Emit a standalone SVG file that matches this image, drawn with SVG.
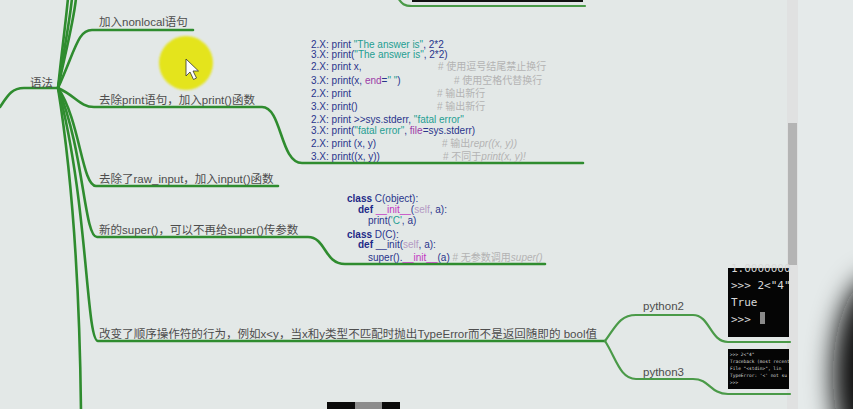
<svg xmlns="http://www.w3.org/2000/svg" width="853" height="409" viewBox="0 0 853 409">
<defs>
<style>
.lbl{font-family:"Liberation Sans","Noto Sans CJK SC",sans-serif;font-size:11.5px;fill:#4d4d4d}
.code{font-family:"Liberation Sans","Noto Sans CJK SC",sans-serif;font-size:10px;fill:#2a358c}
.s{fill:#1f9e92}
.k{fill:#9c3aa8}
.m{fill:#c236c2}
.sf{fill:#b49ac4}
.b{font-weight:bold;fill:#1e2a88}
.c{fill:#b3b3b3}
.i{font-style:italic}
.term{font-family:"DejaVu Sans Mono","Liberation Mono",monospace;fill:#d8d8d8}
.ln{fill:none;stroke:#2f8c2f;stroke-width:2.6;stroke-linecap:round}
.lt{fill:none;stroke:#4a9a48;stroke-width:2.2;stroke-linecap:round}
</style>
<filter id="blur" x="-50%" y="-50%" width="200%" height="200%"><feGaussianBlur stdDeviation="13"/></filter>
<filter id="soft" x="-20%" y="-20%" width="140%" height="140%"><feGaussianBlur stdDeviation="1"/></filter>
</defs>
<rect width="853" height="409" fill="#e3e8e7"/>
<rect x="798" y="0" width="55" height="409" fill="#e5eaea"/>
<ellipse cx="878" cy="375" rx="45" ry="100" fill="#0e0e0e" filter="url(#blur)"/>
<rect x="787" y="0" width="11" height="409" fill="#e0e1e1"/>
<rect x="788" y="123" width="9" height="142" fill="#b4b4b4"/>

<circle cx="186" cy="63" r="27" fill="#e4e41c" filter="url(#soft)"/>

<g id="connectors">
<path class="ln" d="M0,107 C8,95 12,88 24,88 L58,88"/>
<path class="ln" d="M58,88 C62,50 66,20 68,-2"/>
<path class="ln" d="M58,88 C64,50 70,20 72,-2"/>
<path class="ln" d="M58,88 C66,50 74,20 76,-2"/>
<path class="ln" d="M58,88 C76,48 78,30 92,30 L193,30"/>
<path class="ln" d="M58,88 C76,96 80,107 94,107 L262,107 C282,107 280,163 302,163 L583,163"/>
<path class="ln" d="M58,88 C80,120 82,186 96,186 L278,186"/>
<path class="ln" d="M58,88 C84,150 84,237 97,237 L308,237 C326,237 324,264 345,264 L545,264"/>
<path class="ln" d="M58,88 C88,200 86,341 98,341 L605,341"/>
<path class="ln" d="M58,88 C76,200 80,320 81,411"/>
<path class="lt" d="M605,341 C616,326 620,315 636,315 L693,315 C710,315 710,342 728,342 L790,342"/>
<path class="lt" d="M605,341 C616,358 620,379 636,379 L693,379 C710,379 710,394 728,394 L790,394"/>
<path class="lt" d="M398,-2 C402,4 404,6 412,6 L585,6"/>
</g>

<g id="top-image"><rect x="412" y="-5" width="171" height="7" fill="#111"/></g>

<g id="root"><text class="lbl" x="30" y="87" font-size="12">语法</text></g>

<g id="n-nonlocal"><text class="lbl" x="99" y="26">加入nonlocal语句</text></g>
<g id="n-print"><text class="lbl" x="99" y="104">去除print语句，加入print()函数</text></g>
<g id="n-input"><text class="lbl" x="99" y="183">去除了raw_input，加入input()函数</text></g>
<g id="n-super"><text class="lbl" x="99" y="234">新的super()，可以不再给super()传参数</text></g>
<g id="n-order"><text class="lbl" x="99" y="338" textLength="498" lengthAdjust="spacingAndGlyphs">改变了顺序操作符的行为，例如x&lt;y，当x和y类型不匹配时抛出TypeError而不是返回随即的 bool值</text></g>

<g id="code-print">
<text class="code" x="311" y="48">2.X: print <tspan class="s">"The answer is"</tspan>, 2*2</text>
<text class="code" x="311" y="58">3.X: print(<tspan class="s">"The answer is"</tspan>, 2*2)</text>
<text class="code" x="311" y="70">2.X: print x,</text>
<text class="code c" x="438" y="70"># 使用逗号结尾禁止换行</text>
<text class="code" x="311" y="84">3.X: print(x, <tspan class="k">end</tspan>=<tspan class="s">" "</tspan>)</text>
<text class="code c" x="454" y="84"># 使用空格代替换行</text>
<text class="code" x="311" y="97">2.X: print</text>
<text class="code c" x="437" y="97"># 输出新行</text>
<text class="code" x="311" y="110">3.X: print()</text>
<text class="code c" x="437" y="110"># 输出新行</text>
<text class="code" x="311" y="123">2.X: print &gt;&gt;sys.stderr, <tspan class="s">"fatal error"</tspan></text>
<text class="code" x="311" y="134">3.X: print(<tspan class="s">"fatal error"</tspan>, <tspan class="k">file</tspan>=sys.stderr)</text>
<text class="code" x="311" y="147">2.X: print (x, y)</text>
<text class="code c" x="442" y="147"># 输出<tspan class="i">repr((x, y))</tspan></text>
<text class="code" x="311" y="160">3.X: print((x, y))</text>
<text class="code c" x="443" y="160"># 不同于<tspan class="i">print(x, y)!</tspan></text>
</g>

<g id="code-super">
<text class="code" x="347" y="202"><tspan class="b">class</tspan> C(object):</text>
<text class="code" x="358" y="213"><tspan class="b">def</tspan> <tspan class="m">__init__</tspan>(<tspan class="sf">self</tspan>, a):</text>
<text class="code" x="368" y="224">print(<tspan class="s">'C'</tspan>, a)</text>
<text class="code" x="347" y="238"><tspan class="b">class</tspan> D(C):</text>
<text class="code" x="358" y="248"><tspan class="b">def</tspan> __init(<tspan class="sf">self</tspan>, a):</text>
<text class="code" x="368" y="261">super().<tspan class="m">__init__</tspan>(a) <tspan class="c"># 无参数调用<tspan class="i">super()</tspan></tspan></text>
</g>

<g id="n-python2"><text class="lbl" x="643" y="310" font-size="12.5">python2</text></g>
<g id="n-python3"><text class="lbl" x="643" y="376" font-size="12.5">python3</text></g>

<g id="term-py2">
<rect x="728" y="268" width="61" height="69" fill="#050505"/>
<text class="term" x="731" y="272" font-size="11">1.0000000</text>
<text class="term" x="731" y="289" font-size="11">&gt;&gt;&gt; 2&lt;"4"</text>
<text class="term" x="731" y="306" font-size="11">True</text>
<text class="term" x="731" y="323" font-size="11">&gt;&gt;&gt;</text>
<rect x="760" y="312" width="5" height="12" fill="#8a8a8a"/>
</g>

<g id="term-py3">
<rect x="728" y="349" width="61" height="40" fill="#050505"/>
<text class="term" x="730" y="356" font-size="4.5">&gt;&gt;&gt; 2&lt;"4"</text>
<text class="term" x="730" y="363" font-size="4.5">Traceback (most recent</text>
<text class="term" x="730" y="370" font-size="4.5">  File "&lt;stdin&gt;", lin</text>
<text class="term" x="730" y="377" font-size="4.5">TypeError: '&lt;' not su</text>
<text class="term" x="730" y="384" font-size="4.5">&gt;&gt;&gt;</text>
</g>

<g id="bottom-image">
<rect x="327" y="402" width="73" height="9" fill="#0a0a0a"/>
<rect x="355" y="402" width="27" height="9" fill="#8c8c8c"/>
</g>

<g id="cursor">
<polygon points="186,59 186,76 190,72 193.5,79.5 196.5,78 193,71 198.5,71" fill="#ffffff" stroke="#333" stroke-width="0.8" stroke-linejoin="round"/>
</g>
</svg>
